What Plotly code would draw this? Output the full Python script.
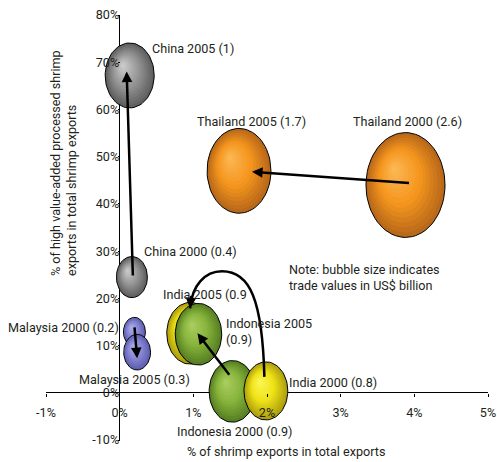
import numpy as np
import plotly.graph_objects as go

# ---------------- data ----------------
labels = ["China 2000", "China 2005", "Thailand 2005", "Thailand 2000",
          "Malaysia 2000", "Malaysia 2005", "India 2005", "Indonesia 2005",
          "Indonesia 2000", "India 2000"]
country = ["China", "China", "Thailand", "Thailand", "Malaysia", "Malaysia",
           "India", "Indonesia", "Indonesia", "India"]
shrimp_share = [0.166, 0.136, 1.62, 3.88, 0.20, 0.237, 0.955, 1.07, 1.53, 1.985]   # % of shrimp exports in total exports
value_added = [24.5, 67.2, 47.0, 44.0, 12.9, 8.6, 12.6, 12.4, 0.3, 0.4]            # % high value-added processed
trade_value = [0.4, 1.0, 1.7, 2.6, 0.2, 0.3, 0.9, 0.9, 0.9, 0.8]                    # US$ billion

x_ticks = [-1, 0, 1, 2, 3, 4, 5]
y_ticks = [-10, 0, 10, 20, 30, 40, 50, 60, 70, 80]

# ---------------- layout constants ----------------
W, H = 497, 462
ML, MR, MT, MB = 46, 9, 15, 22
XR = [-1, 5]
YR = [-10, 80]
PW, PH = W - ML - MR, H - MT - MB
PXX = PW / (XR[1] - XR[0])   # px per x unit
PXY = PH / (YR[1] - YR[0])   # px per y unit
BW, BH = 49, 65              # bubble width / height in px for value 1
TXT = "#231f20"
FONT = "Roboto"
FS = 12.6

def dx(px):
    return px / PXX

def dy(py):
    return -py / PXY

palette = {
    "China":     ((95, 95, 95), (150, 150, 150), (210, 210, 210)),
    "Thailand":  ((185, 105, 25), (245, 150, 30), (252, 188, 90)),
    "Malaysia":  ((95, 95, 175), (135, 135, 212), (180, 180, 238)),
    "India":     ((175, 160, 15), (238, 226, 22), (255, 248, 95)),
    "Indonesia": ((88, 128, 35), (135, 180, 60), (175, 208, 100)),
}

def mix(c1, c2, t):
    return tuple(int(round(a + (b - a) * t)) for a, b in zip(c1, c2))

def grad(cols, t):
    e, m, h = cols
    if t < 0.45:
        c = mix(e, m, t / 0.45)
    else:
        c = mix(m, h, (t - 0.45) / 0.55)
    return "rgb(%d,%d,%d)" % c

fig = go.Figure()
theta = np.linspace(0, 2 * np.pi, 73)
NL = 14
for lab, c, xv, yv, v in zip(labels, country, shrimp_share, value_added, trade_value):
    w = BW * np.sqrt(v)
    h = BH * np.sqrt(v)
    hw, hh = dx(w / 2), -dy(h / 2)
    hlx, hly = dx(-0.15 * w), dy(-0.16 * h)
    for k in range(NL):
        s = 1 - k / NL
        cx = xv + (1 - s) * hlx
        cy = yv + (1 - s) * hly
        xs = cx + hw * s * np.cos(theta)
        ys = cy + hh * s * np.sin(theta)
        fig.add_trace(go.Scatter(
            x=xs, y=ys, mode="lines", fill="toself",
            fillcolor=grad(palette[c], 1 - s),
            line=dict(color="black" if k == 0 else "rgba(0,0,0,0)", width=1 if k == 0 else 0),
            hoverinfo="skip", showlegend=False))

pos = {lab: (xv, yv) for lab, xv, yv in zip(labels, shrimp_share, value_added)}

def arrow(start, end, s_off=(0, 0), e_off=(0, 0), standoff=0):
    x0, y0 = pos[start]
    x1, y1 = pos[end]
    fig.add_annotation(
        x=x1 + dx(e_off[0]), y=y1 + dy(e_off[1]),
        ax=x0 + dx(s_off[0]), ay=y0 + dy(s_off[1]),
        xref="x", yref="y", axref="x", ayref="y",
        text="", showarrow=True, arrowhead=2, arrowsize=0.85,
        arrowwidth=2.5, arrowcolor="black", standoff=standoff)

arrow("China 2000", "China 2005", s_off=(1, 0), e_off=(-3, -4))
arrow("Thailand 2000", "Thailand 2005", s_off=(5, -2), standoff=13)
arrow("Malaysia 2000", "Malaysia 2005", s_off=(0, -6), e_off=(0, 6))
arrow("Indonesia 2000", "Indonesia 2005", s_off=(-2, -15), e_off=(-1, -1))

# curved India arrow (2000 -> 2005)
p0x, p0y = pos["India 2000"]
p0x, p0y = p0x + dx(-1.5), p0y + dy(-14)
p3x, p3y = pos["India 2005"]
p3x, p3y = p3x, p3y + dy(-25)

def P(px, py, bx, by):
    return "%.4f,%.4f" % (bx + dx(px), by + dy(py))

path = ("M %s C %s %s %s C %s %s %s" % (
    "%.4f,%.4f" % (p0x, p0y),
    P(-2, -77, p0x, p0y), P(60, -37, p3x, p3y), P(32, -37, p3x, p3y),
    P(15, -37, p3x, p3y), P(2, -23, p3x, p3y), "%.4f,%.4f" % (p3x, p3y)))
fig.add_shape(type="path", path=path, xref="x", yref="y",
              line=dict(color="black", width=2.5), layer="above")
fig.add_annotation(x=p3x, y=p3y, ax=1.2, ay=-14, xref="x", yref="y",
                   text="", showarrow=True, arrowhead=2, arrowsize=0.85,
                   arrowwidth=2.5, arrowcolor="black")

# ---------------- text labels (positions given in page pixels) ----------------
def lbl(text, px, py, xanchor="left", align="left", angle=0):
    fig.add_annotation(x=(px - ML) / PW, y=1 - (py - MT) / PH,
                       xref="paper", yref="paper", text=text, showarrow=False,
                       xanchor=xanchor, yanchor="middle", align=align,
                       textangle=angle,
                       font=dict(family=FONT, size=FS, color=TXT))

lbl("China 2005 (1)", 150, 49)
lbl("Thailand 2005 (1.7)", 251, 122, xanchor="center")
lbl("Thailand 2000 (2.6)", 407, 122, xanchor="center")
lbl("China 2000 (0.4)", 142, 251)
lbl("India 2005 (0.9", 161, 294)
lbl("Indonesia 2005<br>(0.9)", 224, 331)
lbl("Malaysia 2000 (0.2)", 121, 327, xanchor="right")
lbl("Malaysia 2005 (0.3)", 77, 379)
lbl("Indonesia 2000 (0.9)", 234, 431, xanchor="center")
lbl("India 2000 (0.8)", 287, 382)
lbl("Note: bubble size indicates<br>trade values in US$ billion", 287, 277)

# axis titles
lbl("% of shrimp exports in total exports", 286, 451, xanchor="center")
lbl("% of high value-added processed shrimp<br>exports in total shrimp exports",
    64, 163, xanchor="center", angle=-90)

fig.update_layout(
    width=W, height=H, margin=dict(l=ML, r=MR, t=MT, b=MB, autoexpand=False),
    plot_bgcolor="white", paper_bgcolor="white", showlegend=False,
    font=dict(family=FONT, size=FS, color=TXT),
    xaxis=dict(range=XR, tickvals=x_ticks, ticktext=["%d%%" % t for t in x_ticks],
               showgrid=False, showline=False, zeroline=True, zerolinecolor="black",
               zerolinewidth=1.2, anchor="free", position=(0 - YR[0]) / (YR[1] - YR[0]),
               ticks="outside", ticklen=3, tickcolor="black", ticklabelstandoff=5,
               ticklabeloverflow="allow", automargin=False, fixedrange=True),
    yaxis=dict(range=YR, tickvals=y_ticks, ticktext=["%d%%" % t for t in y_ticks],
               showgrid=False, showline=False, zeroline=True, zerolinecolor="black",
               zerolinewidth=1.2, anchor="free", position=(0 - XR[0]) / (XR[1] - XR[0]),
               ticks="outside", ticklen=2, tickcolor="black", ticklabelstandoff=-4,
               ticklabeloverflow="allow", automargin=False, fixedrange=True),
)

fig.write_html("out.html", config={"displayModeBar": False, "staticPlot": True},
               post_script="document.body.style.margin='0px';")
